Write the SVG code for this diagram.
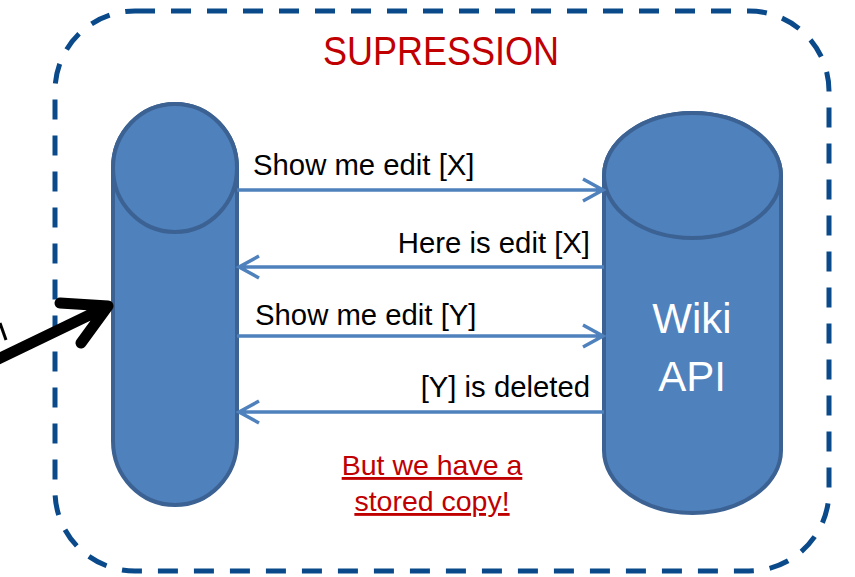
<svg xmlns="http://www.w3.org/2000/svg" width="855" height="577" viewBox="0 0 855 577">
<defs>
<style>
.cyl{fill:#4f81bd;stroke:#3b6293;stroke-width:4}
.msg{fill:none;stroke:#4f81bd;stroke-width:3.5}
.lbl{font-family:"Liberation Sans",Arial,sans-serif;font-size:29.3px;fill:#000}
.red{font-family:"Liberation Sans",Arial,sans-serif;fill:#c00000}
.white{font-family:"Liberation Sans",Arial,sans-serif;font-size:42px;fill:#fff}
</style>
</defs>
<rect id="frame" x="55" y="11" width="774" height="560" rx="80" ry="80" fill="none" stroke="#0a4a8a" stroke-width="5" stroke-dasharray="20 16"/>
<text id="title" class="red" x="441" y="65" font-size="41" text-anchor="middle" textLength="236" lengthAdjust="spacingAndGlyphs">SUPRESSION</text>
<g id="client">
<path class="cyl" d="M113,168 A62,64 0 0 1 237,168 L237,441 A62,64 0 0 1 113,441 Z"/>
<ellipse class="cyl" cx="175" cy="168" rx="62" ry="64"/>
</g>
<g id="wiki-api">
<path class="cyl" d="M604,175.5 A88.5,62.5 0 0 1 781,175.5 L781,450.5 A88.5,62.5 0 0 1 604,450.5 Z"/>
<ellipse class="cyl" cx="692.5" cy="175.5" rx="88.5" ry="62.5"/>
<text class="white" x="692" y="333" text-anchor="middle">Wiki</text>
<text class="white" x="692" y="391" text-anchor="middle">API</text>
</g>
<g id="connectors">
<path class="msg" d="M237,190 H602 M583,179 L603,190 L583,201"/>
<path class="msg" d="M604,267 H240 M259,256 L239,267 L259,278"/>
<path class="msg" d="M237,336 H602 M583,325 L603,336 L583,347"/>
<path class="msg" d="M604,412 H240 M259,401 L239,412 L259,423"/>
<path d="M-4,360 L104,308 M60,303 L108,306 L81,343" fill="none" stroke="#000" stroke-width="11" stroke-linecap="round" stroke-linejoin="round"/>
<path d="M0,323 L6,340" fill="none" stroke="#000" stroke-width="3"/>
</g>
<g id="labels">
<text class="lbl" x="253" y="175">Show me edit [X]</text>
<text class="lbl" x="590" y="253" text-anchor="end">Here is edit [X]</text>
<text class="lbl" x="255" y="325">Show me edit [Y]</text>
<text class="lbl" x="590" y="397" text-anchor="end">[Y] is deleted</text>
<text class="red" x="432" y="475" font-size="28.5" text-anchor="middle" text-decoration="underline">But we have a</text>
<text class="red" x="432" y="511" font-size="28.5" text-anchor="middle" text-decoration="underline">stored copy!</text>
</g>
</svg>
